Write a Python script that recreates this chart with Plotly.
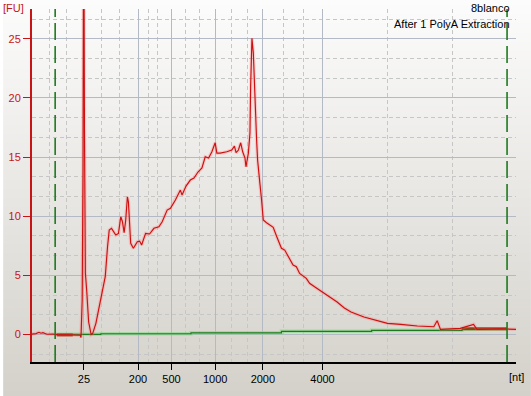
import base64, struct, zlib
import plotly.graph_objects as go

# ---------------- data ----------------
# migration time [s] and fluorescence [FU] of the sample trace
time_s = [18.90, 19.30, 19.60, 19.80, 20.00, 20.40, 21.00, 21.60, 22.50, 23.20, 23.75, 23.83,
          23.95, 24.03, 24.10, 24.18, 24.27, 24.40, 24.60, 24.85, 25.00, 25.33, 25.83, 26.27,
          26.50, 26.67, 26.90, 27.33, 27.60, 27.83, 28.00, 28.17, 28.33, 28.50, 28.60, 28.67,
          28.83, 29.10, 29.50, 29.73, 29.93, 30.33, 30.73, 31.17, 31.67, 32.00, 32.50, 32.83,
          33.33, 33.83, 34.00, 34.40, 34.83, 35.20, 35.60, 36.00, 36.33, 36.67, 37.00, 37.33,
          37.50, 37.83, 38.17, 38.50, 39.00, 39.27, 39.43, 39.67, 39.90, 40.10, 40.33, 40.43,
          40.67, 40.83, 40.90, 41.03, 41.17, 41.27, 41.40, 41.50, 41.60, 41.67, 41.83, 42.00,
          42.17, 42.50, 43.00, 43.17, 43.50, 44.00, 44.33, 44.67, 45.17, 45.50, 45.83, 46.50,
          46.83, 47.33, 47.83, 48.33, 49.00, 49.60, 50.33, 51.00, 52.30, 53.70, 54.67, 56.00,
          57.67, 59.33, 59.67, 60.00, 62.00, 63.33, 63.67, 66.00, 67.60]
fu = [0.04, 0.08, 0.19, 0.11, 0.16, 0.03, 0.04, -0.03, -0.03, -0.04, -0.06, -0.25,
      2.92, 13.9, 40.0, 17.3, 5.2, 3.76, 1.06, 0.00, 0.08, 0.95, 2.92, 4.89,
      7.42, 8.83, 8.98, 8.41, 8.55, 9.96, 9.54, 8.61, 9.68, 11.65, 11.23, 9.68,
      7.71, 7.29, 7.84, 7.90, 7.57, 8.55, 8.50, 8.98, 9.11, 9.54, 10.52, 10.67,
      11.37, 12.21, 11.79, 12.55, 13.06, 13.23, 13.74, 14.08, 15.03, 14.92, 15.45, 16.21,
      15.34, 15.34, 15.37, 15.45, 15.60, 15.93, 15.37, 15.60, 16.21, 15.45, 14.92, 14.18,
      15.34, 17.03, 20.95, 25.04, 23.80, 20.95, 18.13, 16.44, 14.75, 13.90, 12.78, 11.37,
      9.68, 9.45, 9.17, 9.06, 8.33, 7.29, 7.14, 6.58, 5.87, 5.73, 5.17, 4.75,
      4.33, 4.04, 3.76, 3.53, 3.11, 2.75, 2.24, 1.90, 1.48, 1.17, 0.95, 0.86,
      0.72, 0.66, 1.17, 0.44, 0.52, 0.86, 0.44, 0.49, 0.44]

# baseline (step) trace
base_t = [21.23, 25.83, 34.90, 44.00, 53.07, 62.17, 66.70]
base_fu = [0.02, 0.07, 0.15, 0.27, 0.36, 0.44, 0.44]

# marker baselines
lm_t = [21.40, 23.00]
lm_fu = [-0.03, -0.03]
um_t = [62.17, 66.70]
um_fu = [0.50, 0.50]

# markers (lower / upper)
marker_t = [21.23, 66.70]

# x axis ticks (ladder sizes at migration times)
tick_t = [24.13, 29.57, 32.93, 37.33, 42.13, 48.13]
tick_labels = ["25", "200", "500", "1000", "2000", "4000"]
minor_t = [20.63, 22.33, 25.90, 27.73, 30.63, 31.57, 34.33, 35.73, 38.97, 40.57,
           44.17, 46.17, 54.63, 61.17, 67.55]

y_ticks = [0, 5, 10, 15, 20, 25]

X_RANGE = [18.9, 67.6]
Y_RANGE = [-2.32, 27.52]

W, H = 531, 396
ML, MR, MT, MB = 29, 15, 9, 34
PW, PH = W - ML - MR, H - MT - MB


# ---------------- background gradient image ----------------
def gradient_png(h, top, bottom):
    rows = b""
    for i in range(h):
        f = i / (h - 1)
        c = bytes(int(round(top[k] + (bottom[k] - top[k]) * f)) for k in range(3))
        rows += b"\x00" + c * 2
    def chunk(tag, data):
        return struct.pack(">I", len(data)) + tag + data + struct.pack(">I", zlib.crc32(tag + data) & 0xffffffff)
    png = b"\x89PNG\r\n\x1a\n"
    png += chunk(b"IHDR", struct.pack(">IIBBBBB", 2, h, 8, 2, 0, 0, 0))
    png += chunk(b"IDAT", zlib.compress(rows))
    png += chunk(b"IEND", b"")
    return "data:image/png;base64," + base64.b64encode(png).decode()


bg = gradient_png(H, (252, 252, 252), (212, 209, 202))

fig = go.Figure()

# baseline glow + line
fig.add_trace(go.Scatter(x=base_t, y=base_fu, mode="lines", line=dict(color="rgba(120,220,120,0.55)", width=3.5, shape="hv"),
                         hoverinfo="skip", showlegend=False))
fig.add_trace(go.Scatter(x=base_t, y=base_fu, mode="lines", line=dict(color="#1e7a1e", width=1.2, shape="hv"),
                         showlegend=False))
# marker baselines
for mt, mf in ((lm_t, lm_fu), (um_t, um_fu)):
    fig.add_trace(go.Scatter(x=mt, y=mf, mode="lines", line=dict(color="#8b4513", width=3),
                             showlegend=False))
# sample trace glow + line
fig.add_trace(go.Scatter(x=time_s, y=fu, mode="lines", line=dict(color="rgba(255,110,110,0.28)", width=3.5),
                         hoverinfo="skip", showlegend=False))
fig.add_trace(go.Scatter(x=time_s, y=fu, mode="lines", line=dict(color="#cc0f0f", width=1.15),
                         showlegend=False))

# marker lines
for mt in marker_t:
    fig.add_shape(type="line", xref="x", yref="paper", x0=mt, x1=mt, y0=0, y1=1,
                  line=dict(color="#1e7a1e", width=1.6, dash="17px,6px"), layer="above")

fig.add_layout_image(dict(source=bg, xref="paper", yref="paper",
                          x=-ML / PW, y=1 + MT / PH, sizex=W / PW, sizey=H / PH,
                          xanchor="left", yanchor="top", sizing="stretch", layer="below"))

font = dict(family="Liberation Sans, Arial, sans-serif", size=11, color="black")
red = "#c81414"

fig.update_layout(
    width=W, height=H,
    margin=dict(l=ML, r=MR, t=MT, b=MB, pad=0),
    paper_bgcolor="rgba(0,0,0,0)", plot_bgcolor="rgba(0,0,0,0)",
    font=font,
    showlegend=False,
    xaxis=dict(range=X_RANGE, tickmode="array", tickvals=tick_t, ticktext=tick_labels,
               showgrid=True, gridcolor="#b3bac6", gridwidth=1.2, zeroline=False,
               showline=True, linecolor="black", linewidth=1.5,
               ticks="outside", ticklen=6, tickcolor="black", tickwidth=1,
               tickfont=dict(size=11, color="black"),
               minor=dict(tickmode="array", tickvals=minor_t, showgrid=True, gridcolor="#c6c6c6",
                          griddash="4px,3px", gridwidth=1, ticks="")),
    yaxis=dict(range=Y_RANGE, tickmode="array", tickvals=y_ticks,
               showgrid=True, gridcolor="#b3bac6", gridwidth=1.2, zeroline=False,
               showline=True, linecolor=red, linewidth=2,
               ticks="outside", ticklen=7, tickcolor=red, tickwidth=1.2,
               tickfont=dict(size=11, color=red),
               minor=dict(tickmode="array", tickvals=[k * 5 / 3 for k in range(-1, 17) if k % 3 != 0],
                          showgrid=True, gridcolor="#c6c6c6", griddash="4px,3px", gridwidth=1, ticks="")),
)

fig.add_annotation(text="[FU]", xref="paper", yref="paper", x=(10 - ML) / PW, y=1 + (MT - 8.5) / PH,
                   showarrow=False, xanchor="center", yanchor="middle", font=dict(size=11, color=red))
fig.add_annotation(text="[nt]", xref="paper", yref="paper", x=1.0, y=-(377 - (H - MB)) / PH,
                   showarrow=False, xanchor="center", yanchor="middle", font=dict(size=11, color="black"))
fig.add_annotation(text="8blanco", xref="paper", yref="paper", x=(512 - ML) / PW, y=1 + (MT - 8) / PH,
                   showarrow=False, xanchor="right", yanchor="middle", font=dict(size=11, color="black"))
fig.add_annotation(text="After 1 PolyA Extraction", xref="paper", yref="paper", x=(512 - ML) / PW,
                   y=1 - (24 - MT) / PH, showarrow=False, xanchor="right", yanchor="middle",
                   font=dict(size=11, color="black"))

fig.write_html("out.html")
